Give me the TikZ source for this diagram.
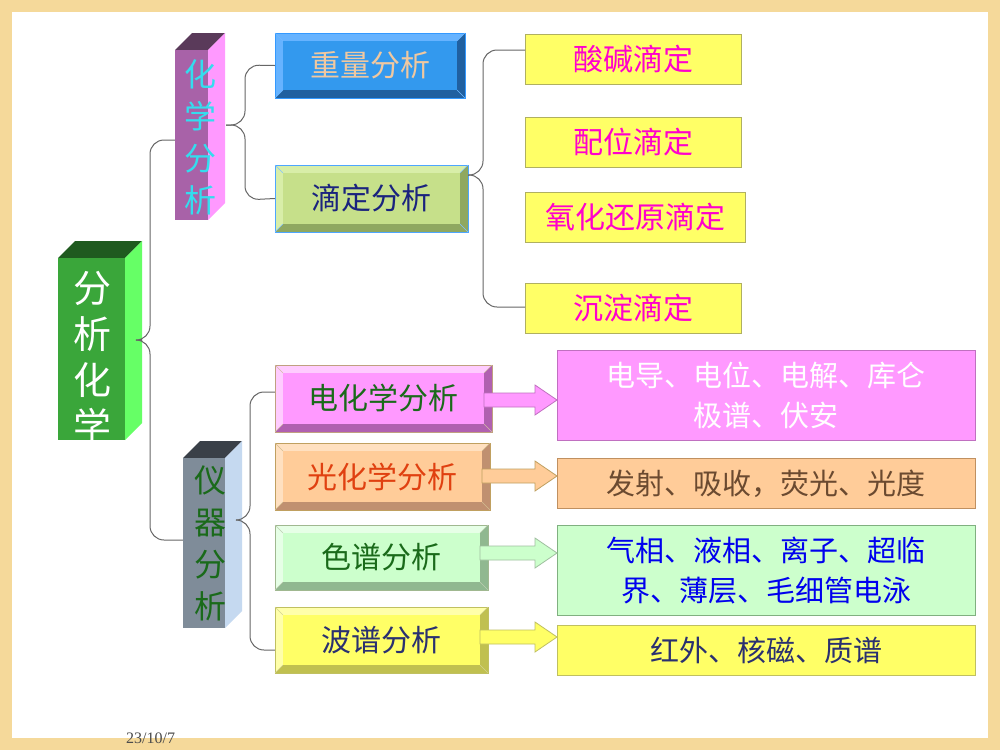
\documentclass[tikz,border=0pt]{standalone}
\usepackage{fontspec}
\setmainfont{Noto Sans CJK SC}
\newfontfamily\datefont{Liberation Serif}
\newcommand\dc[1]{\definecolor{c#1}{HTML}{#1}}
\dc{3AA63A}\dc{66FF66}\dc{1F5A1F}\dc{A862A8}\dc{FF99FF}\dc{5A3A5A}\dc{33DDEE}\dc{7F8C99}\dc{C5D9F0}\dc{3A4048}\dc{1A6A1A}\dc{3399EE}\dc{66B3FF}\dc{2060A0}\dc{3399FF}\dc{F0C8A0}\dc{C6E08A}\dc{D8EEA8}\dc{8FA860}\dc{4DA6FF}\dc{1A237E}\dc{FFCCFF}\dc{B060B0}\dc{C0A080}\dc{FFCC99}\dc{FFE0C0}\dc{C09070}\dc{C0A060}\dc{E04010}\dc{CCFFCC}\dc{E6FFE6}\dc{90B890}\dc{A0B890}\dc{FFFF66}\dc{FFFFAA}\dc{C0C050}\dc{C0C060}\dc{2A3070}\dc{B0B060}\dc{FF00CC}\dc{C070C0}\dc{C09060}\dc{6B4A30}\dc{80B080}\dc{0000EE}\dc{A0C0A0}\dc{F5D99A}
\begin{document}
\begin{tikzpicture}[x=1pt,y=-1pt,
  lbl/.style={inner sep=0pt,font=\fontsize{30}{34}\selectfont},
  vlbl/.style={inner sep=0pt,align=center,font=\fontsize{36}{44}\selectfont},
  brace/.style={draw=black!60,line width=1pt,rounded corners=14pt},
]
\fill[cF5D99A] (0,0) rectangle (1000,750);
\fill[white] (12,12) rectangle (988,738);
\useasboundingbox (0,0) rectangle (1000,750);

\newcommand{\colbox}[9]{% x1 y1 x2 y2 d front side top
  \fill[#8] (#1,#2) -- (#1+#5,#2-#5) -- (#3+#5,#2-#5) -- (#3,#2) -- cycle;
  \fill[#7] (#3,#2) -- (#3+#5,#2-#5) -- (#3+#5,#4-#5) -- (#3,#4) -- cycle;
  \fill[#6] (#1,#2) rectangle (#3,#4);
  \node[minimum width=#3-#1+#5,minimum height=#4-#2+#5,inner sep=0pt] (#9) at ({(#1+#3+#5)/2},{(#2+#4-#5)/2}) {};
}
\newcommand{\bev}[9]{% x1 y1 x2 y2 face light dark border name
  \fill[#6] (#1,#2) rectangle (#3,#4);
  \fill[#7] (#3,#2) -- (#3-8,#2+8) -- (#3-8,#4-8) -- (#1+8,#4-8) -- (#1,#4) -- (#3,#4) -- cycle;
  \fill[#5] (#1+8,#2+8) rectangle (#3-8,#4-8);
  \draw[#8,line width=1pt] (#1,#2) rectangle (#3,#4);
  \draw[#8!70,line width=0.4pt] (#1,#2) -- (#1+8,#2+8) (#3,#2) -- (#3-8,#2+8) (#1,#4) -- (#1+8,#4-8) (#3,#4) -- (#3-8,#4-8);
  \node[minimum width=#3-#1,minimum height=#4-#2,inner sep=0pt] (#9) at ({(#1+#3)/2},{(#2+#4)/2}) {};
}
\newcommand{\barrow}[5]{% x1 x2 ymid fill draw
  \filldraw[fill=#4,draw=#5,line width=0.8pt] (#1,#3-7) -- (#2-22,#3-7) -- (#2-22,#3-15) -- (#2,#3) -- (#2-22,#3+15) -- (#2-22,#3+7) -- (#1,#3+7) -- cycle;
}

% columns
\colbox{58}{258}{125}{440}{17}{c3AA63A}{c66FF66}{c1F5A1F}{fx}
\node[vlbl,text=white,font=\fontsize{38}{46}\selectfont] at (92,357) {分\\析\\化\\学};
\colbox{175}{50}{208}{220}{17}{cA862A8}{cFF99FF}{c5A3A5A}{hx}
\node[vlbl,text=c33DDEE,font=\fontsize{32}{42}\selectfont] at (200,137) {化\\学\\分\\析};
\colbox{183}{458}{225}{628}{17}{c7F8C99}{cC5D9F0}{c3A4048}{yq}
\node[vlbl,text=c1A6A1A,font=\fontsize{32}{42}\selectfont] at (210,543) {仪\\器\\分\\析};

% bevel boxes
\bev{275}{33}{465}{98}{c3399EE}{c66B3FF}{c2060A0}{c3399FF}{zl}
\node[lbl,text=cF0C8A0] at (zl) {重量分析};
\bev{275}{165}{468}{232}{cC6E08A}{cD8EEA8}{c8FA860}{c4DA6FF}{dd}
\node[lbl,text=c1A237E] at (dd) {滴定分析};
\bev{275}{365}{492}{432}{cFF99FF}{cFFCCFF}{cB060B0}{cC0A080}{dh}
\node[lbl,text=c1A6A1A] at (dh) {电化学分析};
\bev{275}{443}{490}{510}{cFFCC99}{cFFE0C0}{cC09070}{cC0A060}{gh}
\node[lbl,text=cE04010] at (gh) {光化学分析};
\bev{275}{525}{488}{590}{cCCFFCC}{cE6FFE6}{c90B890}{cA0B890}{sp}
\node[lbl,text=c1A6A1A] at (sp) {色谱分析};
\bev{275}{607}{488}{673}{cFFFF66}{cFFFFAA}{cC0C050}{cC0C060}{bp}
\node[lbl,text=c2A3070] at (bp) {波谱分析};

% titration boxes
\tikzset{tbox/.style={fill=cFFFF66,draw=cB0B060,line width=0.8pt,text=cFF00CC,lbl,anchor=west,minimum height=50}}
\node[tbox,minimum width=216] (sj) at (525,59) {酸碱滴定};
\node[tbox,minimum width=216] (pw) at (525,142) {配位滴定};
\node[tbox,minimum width=220] (yh) at (525,217) {氧化还原滴定};
\node[tbox,minimum width=216] (cd) at (525,308) {沉淀滴定};

% result boxes
\tikzset{rbox/.style={lbl,anchor=north west,minimum width=418,align=center,line width=0.8pt,font=\fontsize{29}{40}\selectfont}}
\node[rbox,fill=cFF99FF,draw=cC070C0,text=white,minimum height=90] (r1) at (557,350) {电导、电位、电解、库仑\\极谱、伏安};
\node[rbox,fill=cFFCC99,draw=cC09060,text=c6B4A30,minimum height=50] (r2) at (557,458) {发射、吸收，荧光、光度};
\node[rbox,fill=cCCFFCC,draw=c80B080,text=c0000EE,minimum height=90] (r3) at (557,525) {气相、液相、离子、超临\\界、薄层、毛细管电泳};
\node[rbox,fill=cFFFF66,draw=cC0C060,text=c2A3070,minimum height=50] (r4) at (557,625) {红外、核磁、质谱};

% arrows
\barrow{484}{557}{400}{cFF99FF}{cC070C0}
\barrow{482}{557}{476}{cFFCC99}{cC0A060}
\barrow{480}{557}{553}{cCCFFCC}{cA0C0A0}
\barrow{480}{557}{637}{cFFFF66}{cC0C060}

% braces
\draw[brace] (hx.west |- 0,140) -- (150,140) -- (150,340) -- (fx.east |- 0,340);
\draw[brace] (fx.east |- 0,340) -- (150,340) -- (150,540) -- (yq.west |- 0,540);
\draw[brace] (zl.west) -- (245,65) -- (245,125) -- (226,125);
\draw[brace] (226,125) -- (245,125) -- (245,200) -- (dd.west);
\draw[brace] (sj.west |- 0,50) -- (483,50) -- (483,175) -- (468,175);
\draw[brace] (468,175) -- (483,175) -- (483,307) -- (cd.west |- 0,307);
\draw[brace] (dh.west |- 0,392) -- (250,392) -- (250,520) -- (236,520);
\draw[brace] (236,520) -- (250,520) -- (250,650) -- (bp.west |- 0,650);

\node[font=\datefont\fontsize{16}{16}\selectfont,text=black!70,anchor=south west,inner sep=0pt] at (126,744) {23/10/7};
\end{tikzpicture}
\end{document}
